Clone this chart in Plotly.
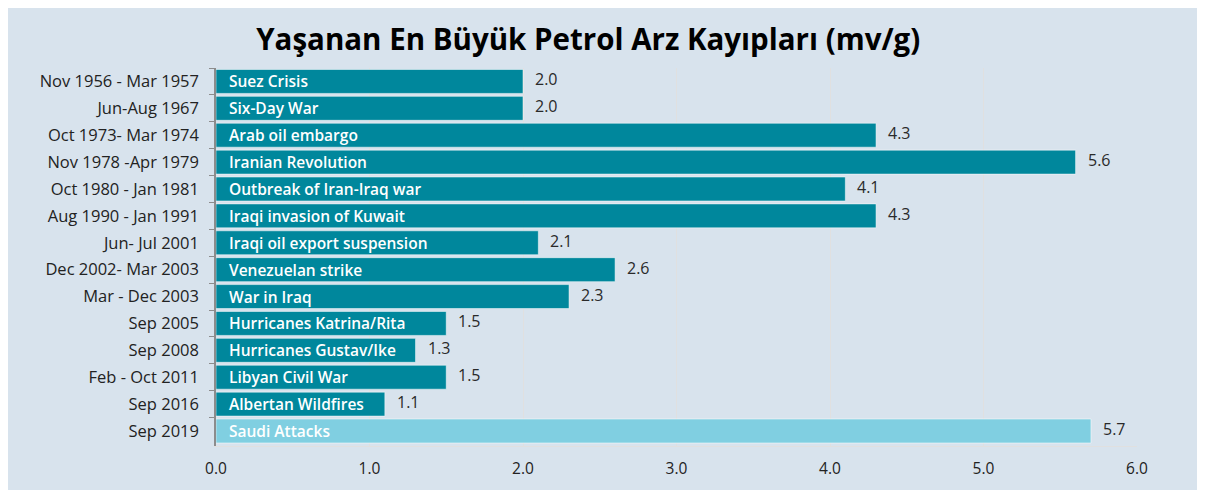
import plotly.graph_objects as go

periods = ["Nov 1956 - Mar 1957", "Jun-Aug 1967", "Oct 1973- Mar 1974", "Nov 1978 -Apr 1979",
           "Oct 1980 - Jan 1981", "Aug 1990 - Jan 1991", "Jun- Jul 2001", "Dec 2002- Mar 2003",
           "Mar - Dec 2003", "Sep 2005", "Sep 2008", "Feb - Oct 2011", "Sep 2016", "Sep 2019"]
events = ["Suez Crisis", "Six-Day War", "Arab oil embargo", "Iranian Revolution",
          "Outbreak of Iran-Iraq war", "Iraqi invasion of Kuwait", "Iraqi oil export suspension",
          "Venezuelan strike", "War in Iraq", "Hurricanes Katrina/Rita", "Hurricanes Gustav/Ike",
          "Libyan Civil War", "Albertan Wildfires", "Saudi Attacks"]
values = [2.0, 2.0, 4.3, 5.6, 4.1, 4.3, 2.1, 2.6, 2.3, 1.5, 1.3, 1.5, 1.1, 5.7]
x_ticks = [0, 1, 2, 3, 4, 5, 6]

DARK = "#00879c"
LIGHT = "#80cfe1"
BG = "#d8e3ed"
FONT = "Open Sans"
colors = [LIGHT if e == "Saudi Attacks" else DARK for e in events]

fig = go.Figure()
fig.add_trace(go.Bar(
    y=periods, x=values, orientation="h",
    marker=dict(color=colors, line=dict(color="rgba(255,255,255,0.5)", width=1)),
    hoverinfo="skip",
))

for p, e, v in zip(periods, events, values):
    fig.add_annotation(x=0, y=p, text=e, showarrow=False, xanchor="left", xshift=11, yshift=0,
                       font=dict(size=15.5, color="white", family=FONT, weight=600))
    fig.add_annotation(x=v, y=p, text=f"{v:.1f}", showarrow=False, xanchor="left",
                       xshift=10, yshift=2, font=dict(size=16, color="#2a2a2a", family=FONT))

W, H = 1189, 482
L, R, T, B = 208, 60, 60, 44

fig.update_layout(
    width=W, height=H, margin=dict(l=L, r=R, t=T, b=B),
    paper_bgcolor=BG, plot_bgcolor=BG,
    bargap=0.11, showlegend=False,
    title=dict(text="<b>Yaşanan En Büyük Petrol Arz Kayıpları (mv/g)</b>", x=0.488, xanchor="center",
               y=0.934, yanchor="middle", font=dict(size=29.5, color="black", family=FONT)),
    font=dict(family=FONT, color="#222222"),
)
fig.update_xaxes(range=[0, 6], tickvals=x_ticks, ticktext=[f"{t:.1f}" for t in x_ticks],
                 showgrid=True, gridcolor="#e0e0e0", gridwidth=1, zeroline=False,
                 showline=True, linecolor="#e0e0e0", linewidth=1,
                 tickfont=dict(size=15.5, color="#222222"), ticks="", ticklabelstandoff=8)
fig.update_yaxes(autorange="reversed", showgrid=False, zeroline=False,
                 showline=True, linecolor="#8c8c8c", linewidth=1.5,
                 ticks="outside", tickson="boundaries", ticklen=5, tickcolor="#8c8c8c",
                 tickfont=dict(size=16.5, color="#222222"), ticklabelstandoff=12)

fig.write_html("out.html")
